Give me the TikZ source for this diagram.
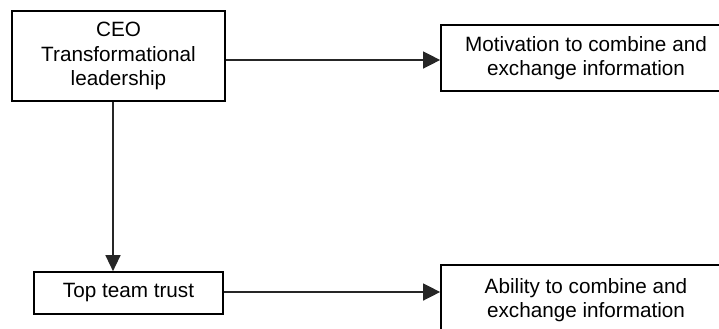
\documentclass[tikz,border=0pt]{standalone}
\usepackage{fontspec}
\setmainfont{Liberation Sans}
\usetikzlibrary{arrows.meta}
\begin{document}
\begin{tikzpicture}[x=1bp,y=-1bp,
  box/.style={draw=black, line width=1.7bp, rectangle, inner sep=0pt,
    align=center, font=\fontsize{20.7bp}{24.5bp}\selectfont},
  link/.style={draw=black!85, line width=1.4bp,
    -{Triangle[length=17bp,width=17bp]}}]
  % page area; the two right-hand boxes run past its edges
  \clip (0,0) rectangle (719,328);
  % boxes
  \node[box, minimum width=290bp, minimum height=66bp] (mot) at (586,58)
    {Motivation to combine and\\exchange information};
  \node[box, minimum width=213bp, minimum height=90bp] (ceo) at (118.5,56)
    {CEO\\Transformational\\leadership};
  \node[box, minimum width=189bp, minimum height=42bp] (trust) at (128.5,293)
    {Top team trust};
  \node[box, minimum width=290bp, minimum height=70bp] (abil) at (586,300)
    {Ability to combine and\\exchange information};
  % connectors
  \coordinate (c1) at ([yshift=-4bp]ceo.east);
  \draw[link] (c1) -- (c1 -| mot.west);
  \coordinate (c2) at ([xshift=-5.5bp]ceo.south);
  \draw[link, -{Triangle[length=16bp,width=15bp]}] (c2) -- (c2 |- trust.north);
  \coordinate (c3) at ([yshift=1bp]trust.east);
  \draw[link] (c3) -- (c3 -| abil.west);
\end{tikzpicture}
\end{document}
